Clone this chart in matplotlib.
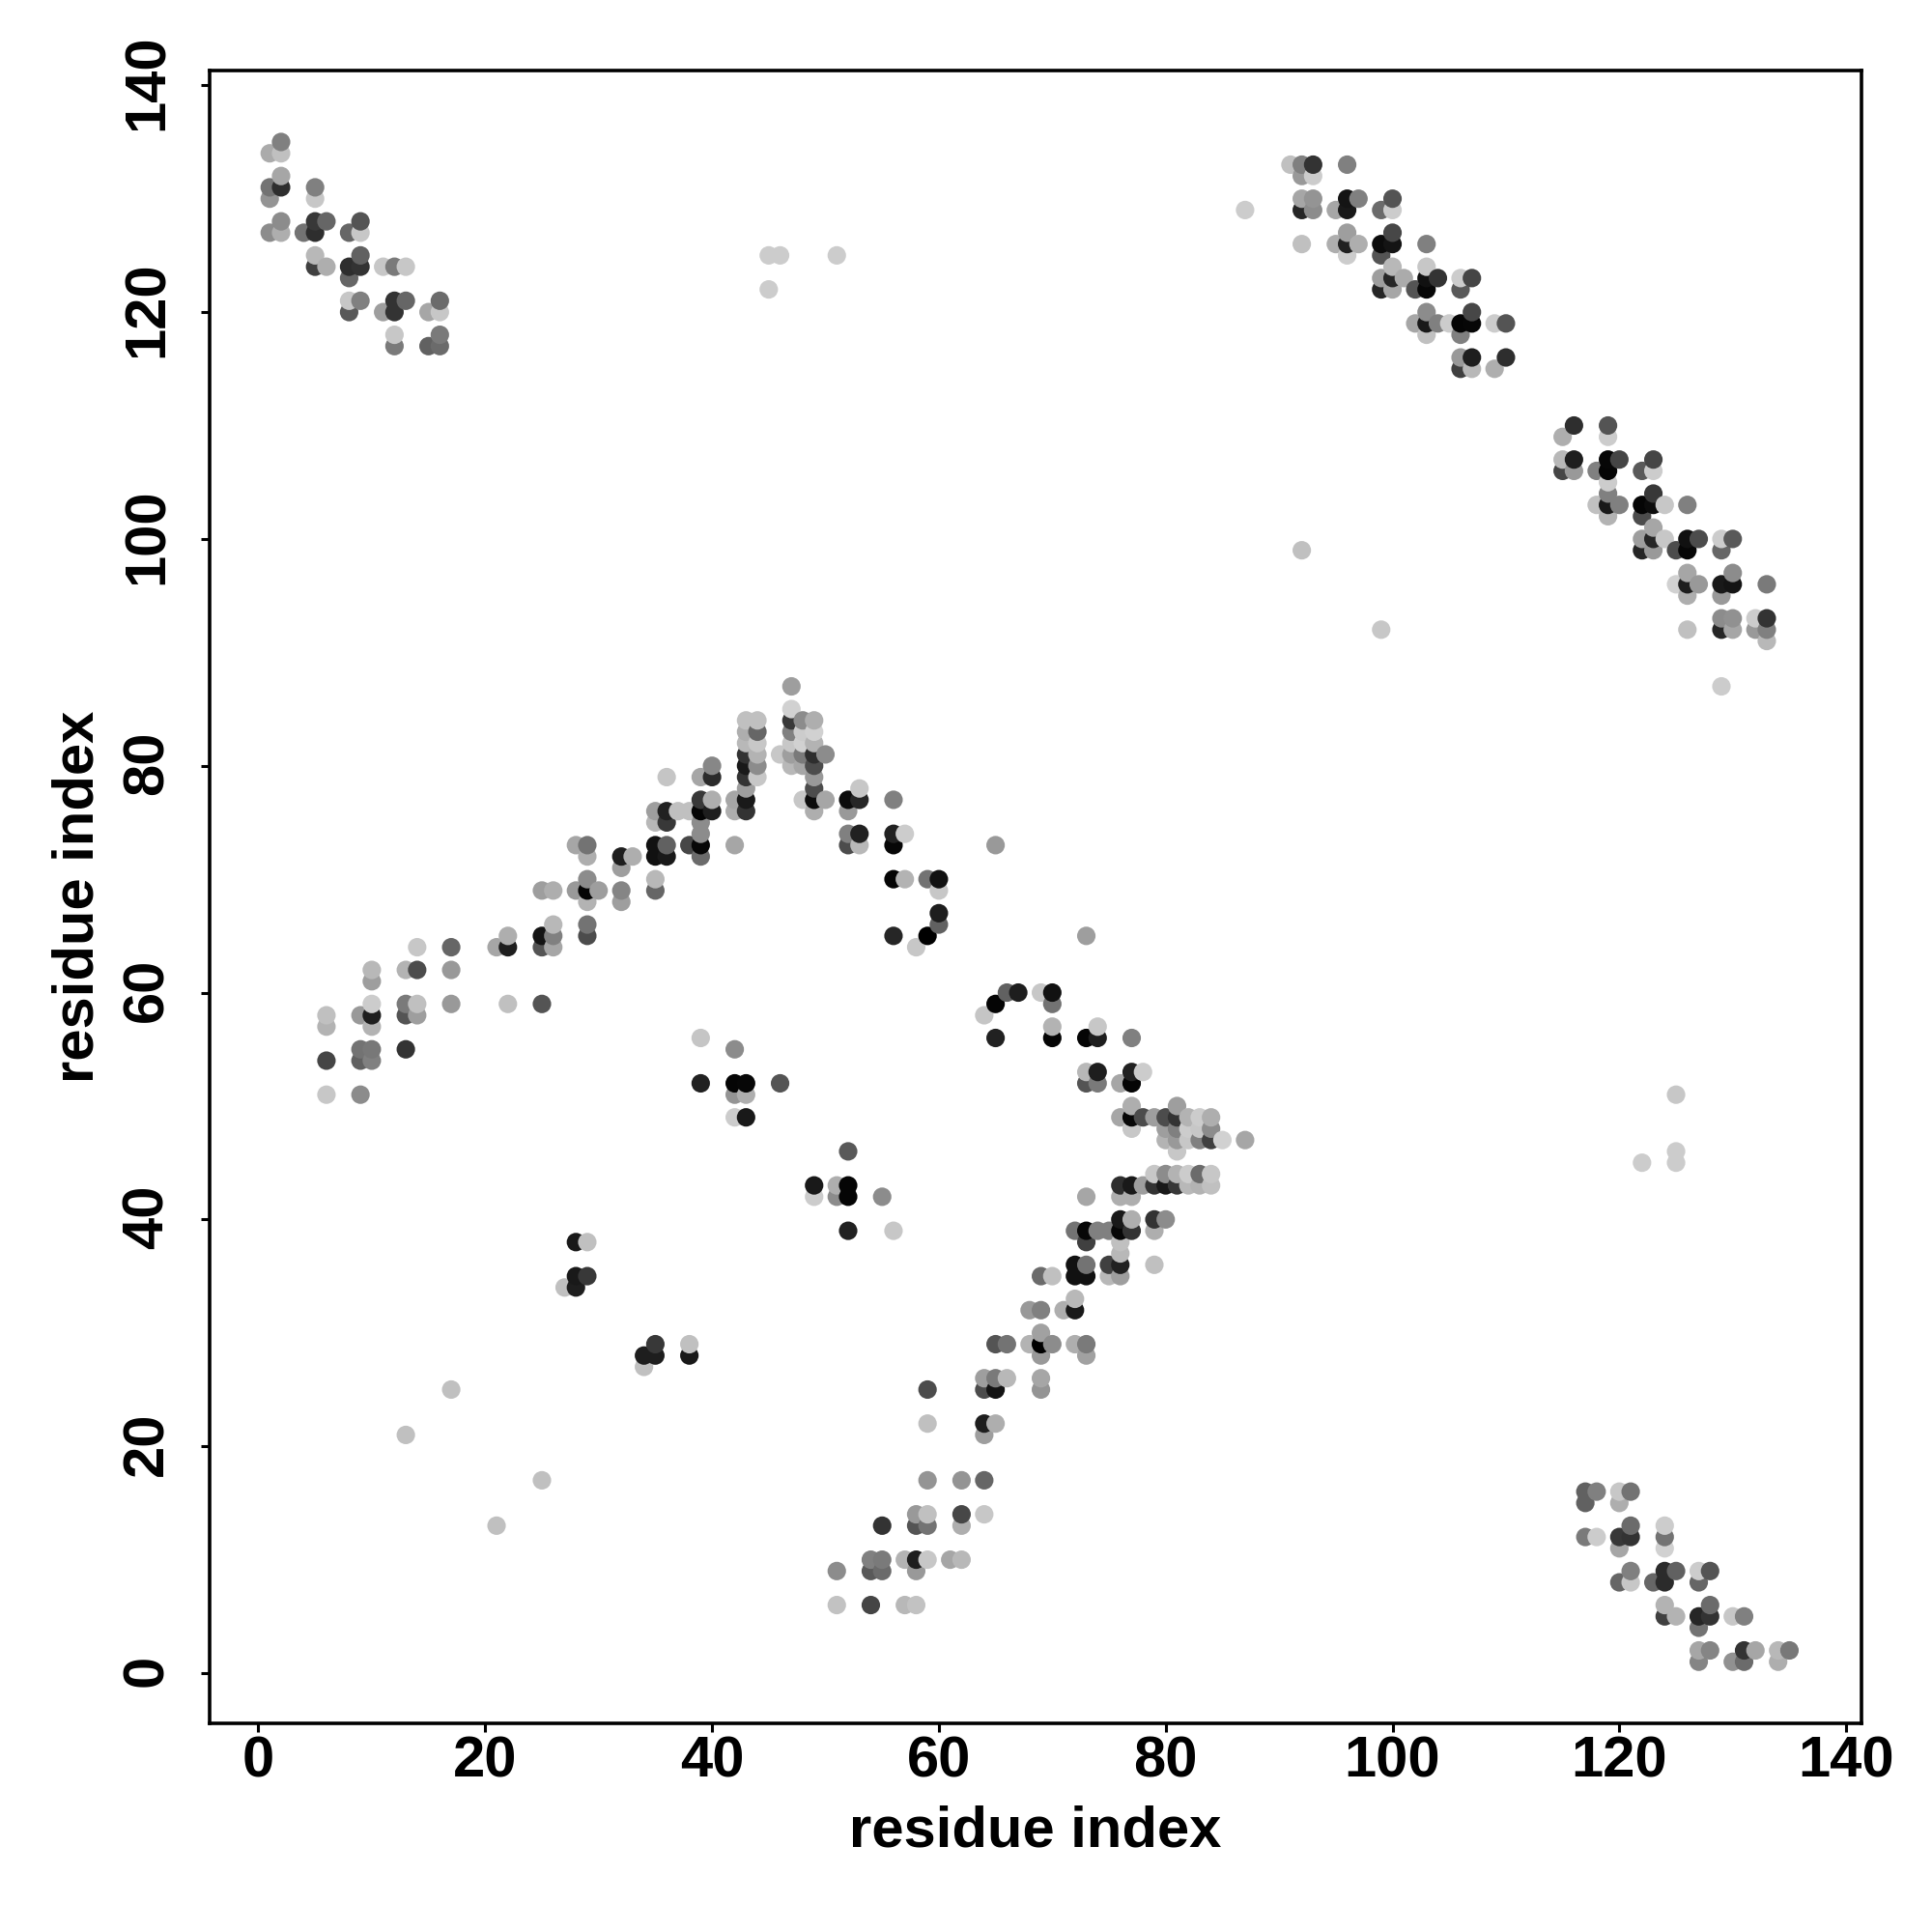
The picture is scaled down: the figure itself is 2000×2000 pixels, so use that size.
import pandas as pd
import matplotlib
matplotlib.use('Agg')
import matplotlib.pyplot as plt
from matplotlib.transforms import ScaledTranslation

plt.rcParams['font.family'] = ['Liberation Sans', 'DejaVu Sans']

# (residue i, residue j, grey shade), one list per region
top_left = [
    (1,134,.67),(2,134,.75),(2,135,.5),(1,131,.45),(1,130,.58),(2,131,.18),(2,132,.65),
    (5,131,.5),(5,130,.78),(1,127,.55),(2,127,.68),(2,128,.55),(4,127,.45),(5,128,.22),
    (5,127,.18),(6,128,.4),(8,127,.4),(9,127,.78),(9,128,.33),(5,125,.72),(5,124,.25),
    (6,124,.68),(8,124,.18),(9,124,.2),(9,125,.38),(8,123,.4),(11,124,.78),(12,124,.48),
    (13,124,.78),(8,121,.78),(9,121,.5),(8,120,.35),(11,120,.62),(12,120,.2),(12,121,.2),
    (13,121,.4),(15,120,.65),(16,120,.78),(16,121,.42),(12,118,.78),(12,117,.48),
    (15,117,.38),(16,117,.42),(16,118,.48),
]
top_right = [
    (91,133,.75),(92,133,.5),(92,132,.6),(93,132,.8),(93,133,.2),(96,133,.5),(87,129,.8),
    (92,129,.15),(93,129,.55),(92,130,.65),(93,130,.58),(95,129,.65),(96,129,.1),
    (96,130,.08),(97,130,.5),(99,129,.42),(100,129,.8),(100,130,.33),(92,126,.75),
    (95,126,.68),(96,125,.8),(96,126,.13),(97,126,.68),(96,127,.62),(99,125,.33),
    (99,126,.05),(100,126,.08),(100,127,.28),(103,126,.5),(99,123,.62),(99,122,.15),
    (100,122,.65),(100,123,.15),(100,124,.72),(101,123,.67),(102,122,.33),(103,122,.03),
    (103,123,.07),(103,124,.78),(104,123,.2),(106,123,.8),(106,122,.35),(107,123,.27),
    (103,120,.55),(102,119,.65),(103,119,.1),(103,118,.75),(104,119,.5),(105,119,.8),
    (106,119,.02),(107,119,.03),(107,120,.28),(106,118,.5),(109,119,.8),(110,119,.33),
    (106,116,.6),(107,116,.12),(106,115,.25),(107,115,.72),(109,115,.68),(110,116,.18),
]
mid_right = [
    (115,109,.68),(116,110,.18),(119,109,.8),(119,110,.33),(115,107,.72),(115,106,.27),
    (116,106,.6),(116,107,.12),(118,106,.5),(119,105,.8),(119,106,.02),(119,107,.03),
    (120,107,.27),(122,106,.35),(123,106,.8),(123,107,.27),(119,104,.5),(118,103,.75),
    (119,102,.7),(119,103,.1),(120,103,.5),(122,103,.02),(122,102,.3),(123,103,.05),
    (123,104,.22),(124,103,.78),(126,103,.5),(122,100,.62),(122,99,.15),(123,99,.6),
    (123,100,.15),(123,101,.65),(124,100,.78),(125,99,.3),(126,99,.03),(126,100,.07),
    (127,100,.3),(129,100,.8),(129,99,.4),(130,100,.35),(125,96,.82),(126,97,.65),
    (126,96,.12),(126,95,.68),(127,96,.6),(129,96,.1),(130,96,.08),(130,97,.55),
    (129,95,.6),(133,96,.48),(126,92,.75),(129,93,.55),(130,93,.57),(129,92,.15),
    (130,92,.65),(132,93,.8),(132,92,.6),(133,92,.5),(133,93,.2),(133,91,.72),(129,87,.8),
]
bottom_right = [
    (117,16,.38),(118,16,.5),(117,15,.38),(120,16,.78),(121,16,.45),(120,15,.68),
    (117,12,.48),(118,12,.8),(120,12,.22),(121,13,.42),(121,12,.2),(120,11,.65),
    (124,13,.8),(124,12,.45),(124,11,.82),(120,8,.4),(121,9,.5),(121,8,.78),(123,8,.4),
    (124,8,.17),(124,9,.17),(125,9,.38),(127,9,.8),(127,8,.4),(128,9,.33),(124,6,.7),
    (124,5,.25),(125,5,.7),(127,5,.15),(128,5,.2),(128,6,.42),(127,4,.45),(130,5,.78),
    (131,5,.5),(127,2,.65),(128,2,.52),(127,1,.52),(130,1,.57),(131,1,.42),(131,2,.2),
    (132,2,.65),(134,2,.72),(135,2,.47),(134,1,.68),
]
rising_arm = [
    (6,58,.75),(6,57,.7),(6,54,.27),(6,51,.78),(9,58,.6),(10,58,.12),(10,59,.8),(10,57,.7),
    (9,55,.45),(10,55,.47),(9,54,.38),(10,54,.5),(9,51,.55),(10,62,.72),(10,61,.62),
    (13,62,.7),(14,62,.3),(14,64,.78),(13,59,.48),(14,59,.75),(13,58,.33),(14,58,.62),
    (13,55,.2),(17,64,.4),(17,62,.6),(17,59,.6),(21,64,.65),(22,65,.68),(22,64,.12),
    (22,59,.75),(25,59,.33),(25,65,.08),(26,66,.72),(26,65,.5),(25,64,.33),(26,64,.65),
    (25,69,.62),(26,69,.68),(28,73,.65),(29,73,.45),(29,72,.68),(32,72,.12),(33,72,.68),
    (32,71,.62),(35,73,.07),(36,73,.38),(35,72,.07),(36,72,.1),(35,70,.72),(35,69,.4),
    (28,69,.6),(29,69,.02),(29,70,.55),(30,69,.62),(29,68,.7),(32,69,.52),(32,68,.62),
    (29,66,.45),(29,65,.3),(35,76,.62),(36,76,.13),(35,75,.72),(36,75,.22),(37,76,.75),
    (38,76,.75),(36,79,.77),(39,79,.65),(40,79,.17),(40,80,.53),(38,73,.28),(39,73,.03),
    (39,72,.42),(39,74,.55),(39,75,.55),(39,76,.02),(39,77,.22),(40,77,.68),(40,76,.12),
]
peak = [
    (42,77,.65),(42,76,.68),(43,76,.2),(43,77,.1),(43,78,.62),(43,79,.2),(43,80,.1),
    (43,81,.2),(42,73,.65),(43,82,.72),(43,83,.68),(43,84,.75),(44,84,.75),(44,83,.4),
    (44,82,.78),(44,81,.7),(44,80,.55),(44,79,.78),(46,81,.78),(47,87,.62),(47,85,.82),
    (47,84,.22),(47,83,.5),(47,82,.78),(47,81,.62),(47,80,.72),(48,84,.55),(48,83,.8),
    (48,82,.82),(48,81,.48),(48,80,.65),(49,84,.68),(49,83,.82),(49,82,.7),(49,81,.18),
    (49,80,.3),(50,81,.55),(49,79,.6),(49,78,.3),(49,77,.05),(48,77,.78),(50,77,.65),
    (49,76,.68),(52,77,.05),(53,77,.15),(53,78,.78),(52,76,.6),(52,74,.5),(53,74,.13),
    (52,73,.3),(53,73,.72),
]
falling_arm = [
    (56,77,.5),(56,74,.13),(57,74,.8),(56,73,.03),(65,73,.6),(56,70,.02),(57,70,.7),
    (59,70,.45),(60,70,.07),(60,69,.78),(60,67,.12),(60,66,.38),(59,65,.0),(56,65,.15),
    (58,64,.78),(73,65,.62),(64,58,.77),(65,59,.02),(66,60,.38),(67,60,.12),(65,56,.13),
    (69,60,.78),(70,60,.07),(70,59,.45),(70,57,.7),(70,56,.02),(73,56,.02),(74,56,.12),
    (74,57,.78),(77,56,.5),(73,53,.72),(74,53,.12),(73,52,.33),(74,52,.48),(76,52,.65),
    (77,53,.13),(77,52,.02),(78,53,.8),(76,49,.65),(77,50,.68),(77,49,.03),(77,48,.78),
    (78,49,.3),(79,49,.62),(80,49,.3),(81,50,.62),(81,49,.2),(82,49,.7),(83,49,.8),
    (84,49,.68),(80,48,.62),(81,48,.5),(82,48,.8),(83,48,.78),(84,48,.55),(80,47,.7),
    (81,47,.6),(82,47,.78),(83,47,.5),(84,47,.25),(85,47,.82),(87,47,.65),(81,46,.78),
]
lower_arm = [
    (79,44,.78),(80,44,.55),(81,44,.7),(82,44,.8),(83,44,.42),(84,44,.78),(76,43,.18),
    (77,43,.1),(78,43,.62),(79,43,.2),(80,43,.1),(81,43,.22),(82,43,.72),(83,43,.7),
    (84,43,.75),(73,42,.65),(76,42,.68),(77,42,.68),(76,40,.1),(77,40,.68),(79,40,.2),
    (80,40,.55),(72,39,.45),(73,39,.03),(74,39,.5),(75,39,.5),(76,39,.03),(77,39,.2),
    (79,39,.68),(73,38,.25),(76,38,.75),(76,37,.72),(72,36,.07),(73,36,.45),(72,35,.07),
    (73,35,.07),(75,36,.25),(76,36,.13),(75,35,.72),(76,35,.62),(79,36,.75),(69,35,.42),
    (70,35,.75),(68,32,.6),(69,32,.5),(71,32,.68),(72,32,.1),(72,33,.72),(69,30,.63),
    (65,29,.33),(66,29,.45),(68,29,.7),(69,29,.0),(70,29,.55),(69,28,.6),(72,29,.68),
    (73,29,.48),(73,28,.63),(64,26,.62),(65,26,.48),(66,26,.72),(64,25,.3),(65,25,.08),
    (69,26,.65),(69,25,.58),(59,25,.3),(59,22,.75),(64,22,.12),(65,22,.68),(64,21,.62),
    (59,17,.58),(62,17,.58),(64,17,.4),(58,14,.6),(59,14,.75),(58,13,.33),(59,13,.45),
    (62,14,.28),(62,13,.68),(64,14,.78),(55,13,.2),(54,10,.5),(55,10,.48),(54,9,.35),
    (55,9,.42),(57,10,.7),(58,10,.12),(59,10,.78),(58,9,.6),(61,10,.65),(62,10,.72),
    (51,9,.55),(51,6,.76),(54,6,.27),(57,6,.72),(58,6,.76),
]
inner = [
    (39,56,.77),(42,55,.55),(39,52,.13),(42,52,.02),(43,52,.03),(42,51,.58),(43,51,.68),
    (46,52,.33),(42,49,.8),(43,49,.1),(52,46,.35),(49,43,.1),(51,43,.68),(52,43,.02),
    (49,42,.8),(51,42,.55),(52,42,.02),(55,42,.55),(52,39,.13),(56,39,.78),(28,38,.1),
    (29,38,.75),(28,35,.1),(29,35,.22),(27,34,.75),(28,34,.12),(34,27,.75),(34,28,.12),
    (35,28,.12),(35,29,.22),(38,28,.1),(38,29,.75),
]
isolated = [
    (92,99,.75),(99,92,.78),(45,125,.8),(46,125,.8),(51,125,.8),(45,122,.8),(125,51,.78),
    (122,45,.8),(125,46,.8),(125,45,.8),(17,25,.75),(13,21,.75),(25,17,.75),(21,13,.75),
]
ticks = [0, 20, 40, 60, 80, 100, 120, 140]

contacts = pd.DataFrame(
    top_left + top_right + mid_right + bottom_right + rising_arm + peak
    + falling_arm + lower_arm + inner + isolated,
    columns=['i', 'j', 'shade'])
# points stack left to right, then bottom to top
contacts = contacts.drop_duplicates(['i', 'j']).sort_values(['i', 'j'])

fig = plt.figure(figsize=(20, 20), dpi=100)
ax = fig.add_axes([217/2000, 1 - 1784/2000, 1710/2000, 1711/2000])
ax.scatter(contacts['i'], contacts['j'], c=contacts['shade'], cmap='gray',
           vmin=0, vmax=1, s=190, linewidths=0)
ax.set_xlim(-4.3, 141.35)
ax.set_ylim(-4.43, 141.3)
ax.set_xticks(ticks)
ax.set_yticks(ticks)
ax.tick_params(axis='both', length=6.3, width=2.2, labelsize=43)
ax.tick_params(axis='x', pad=2.5)
ax.tick_params(axis='y', pad=20)
nudge_up = ScaledTranslation(0, 2/72, fig.dpi_scale_trans)
for label in ax.get_xticklabels():
    label.set_fontweight('bold')
for label in ax.get_yticklabels():
    label.set_fontweight('bold')
    label.set_rotation(90)
    label.set_verticalalignment('center')
    label.set_transform(label.get_transform() + nudge_up)
for spine in ax.spines.values():
    spine.set_linewidth(2.6)
ax.set_xlabel('residue index', fontsize=43, fontweight='bold')
ax.set_ylabel('residue index', fontsize=43, fontweight='bold')
ax.xaxis.set_label_coords(0.5, -111.5/1711, transform=ax.transAxes)
ax.yaxis.set_label_coords(-135.5/1710, 0.5, transform=ax.transAxes)
ax.xaxis.label.set_verticalalignment('center')
ax.yaxis.label.set_verticalalignment('center')
fig.savefig('out.png', dpi=100)
